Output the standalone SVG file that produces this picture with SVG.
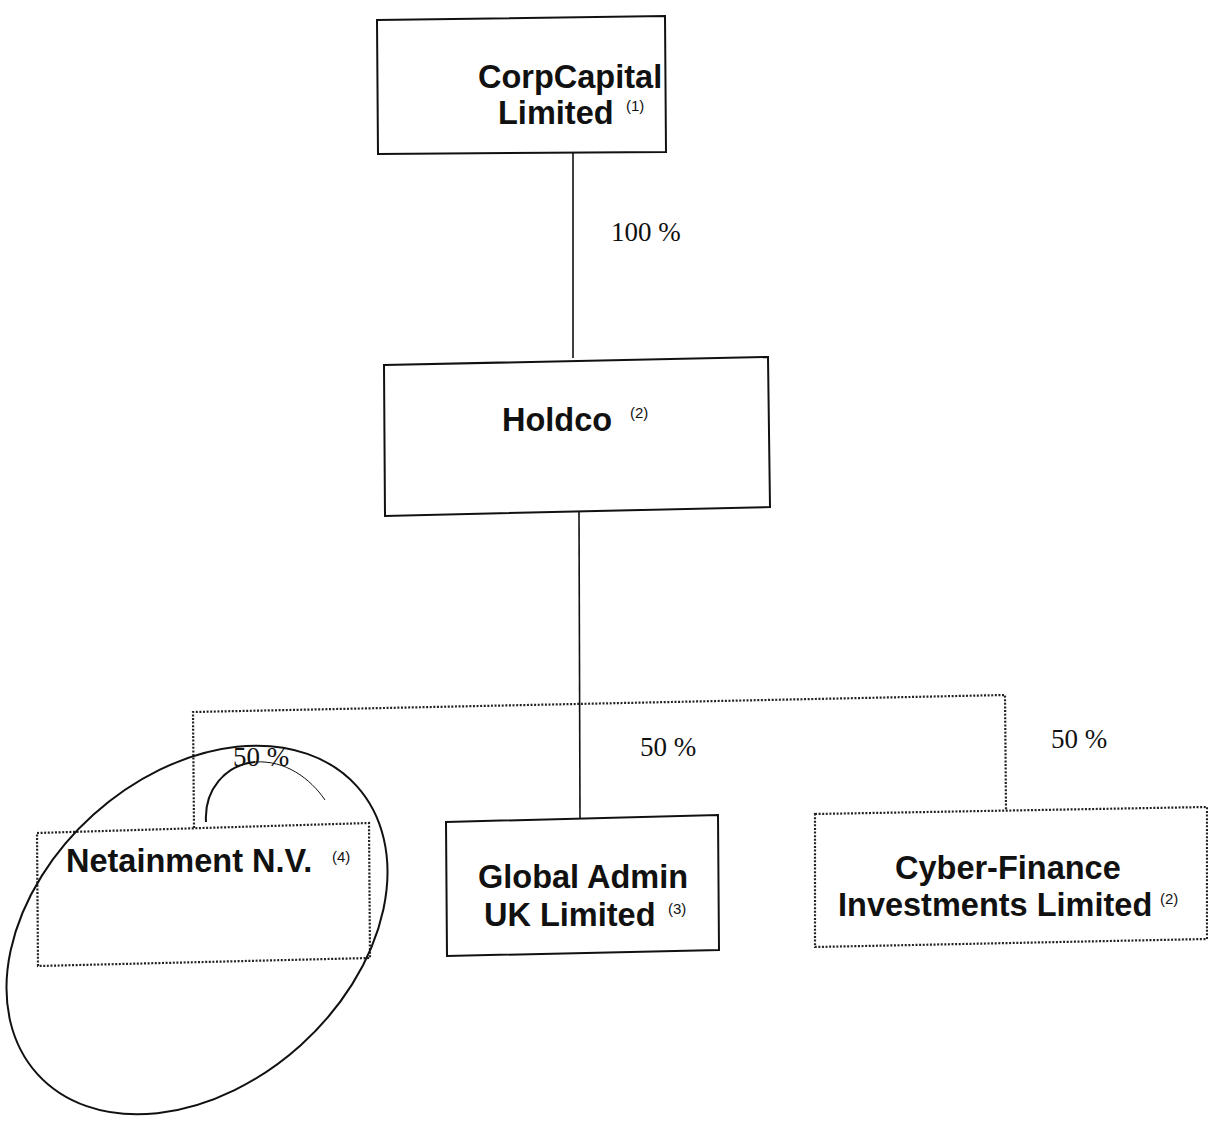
<svg xmlns="http://www.w3.org/2000/svg" width="1208" height="1123" viewBox="0 0 1208 1123">
<style>
.box{fill:none;stroke:#111;stroke-width:2}
.dot{fill:none;stroke:#222;stroke-width:2.2;stroke-dasharray:2 1.6}
.line{fill:none;stroke:#111;stroke-width:1.6}
.lbl{font-family:"Liberation Sans",Arial,sans-serif;font-weight:bold;font-size:32.5px;fill:#111}
.sup{font-family:"Liberation Sans",Arial,sans-serif;font-size:15px;fill:#111}
.pct{font-family:"Liberation Serif","Times New Roman",serif;font-size:27px;fill:#111}
.ink{fill:none;stroke:#111;stroke-width:2}
</style>
<rect width="1208" height="1123" fill="#fff"/>
<g id="connectors">
<line class="line" x1="573" y1="153" x2="573" y2="358"/>
<line class="line" x1="579" y1="512" x2="580" y2="818"/>
<polyline class="dot" points="194,828 193,712 1005,695 1006,810"/>
<text class="pct" x="611" y="241">100 %</text>
<text class="pct" x="233" y="766">50 %</text>
<text class="pct" x="640" y="756">50 %</text>
<text class="pct" x="1051" y="748">50 %</text>
</g>
<g id="corpcapital">
<polygon class="box" points="377,20 665,16 666,152 378,154"/>
<text class="lbl" x="478" y="88">CorpCapital</text>
<text class="lbl" x="498" y="124">Limited</text>
<text class="sup" x="626" y="111">(1)</text>
</g>
<g id="holdco">
<polygon class="box" points="384,365 768,357 770,507 385,516"/>
<text class="lbl" x="502" y="431">Holdco</text>
<text class="sup" x="630" y="418">(2)</text>
</g>
<g id="netainment">
<polygon class="dot" points="37,833 369,823 370,958 38,966"/>
<text class="lbl" x="66" y="872">Netainment N.V.</text>
<text class="sup" x="332" y="862">(4)</text>
</g>
<g id="globaladmin">
<polygon class="box" points="446,822 718,815 719,950 447,956"/>
<text class="lbl" x="478" y="888">Global Admin</text>
<text class="lbl" x="484" y="926">UK Limited</text>
<text class="sup" x="668" y="914">(3)</text>
</g>
<g id="cyberfinance">
<polygon class="dot" points="815,814 1207,807 1207,939 815,947"/>
<text class="lbl" x="895" y="879">Cyber-Finance</text>
<text class="lbl" x="838" y="916">Investments Limited</text>
<text class="sup" x="1160" y="904">(2)</text>
</g>
<g id="annotation">
<ellipse class="ink" cx="197" cy="930" rx="215" ry="155" transform="rotate(-42 197 930)"/>
<path class="ink" d="M206,822 C204,790 225,765 255,762"/>
<path fill="none" stroke="#111" stroke-width="1" d="M255,762 C285,760 310,778 325,800"/>
</g>
</svg>
